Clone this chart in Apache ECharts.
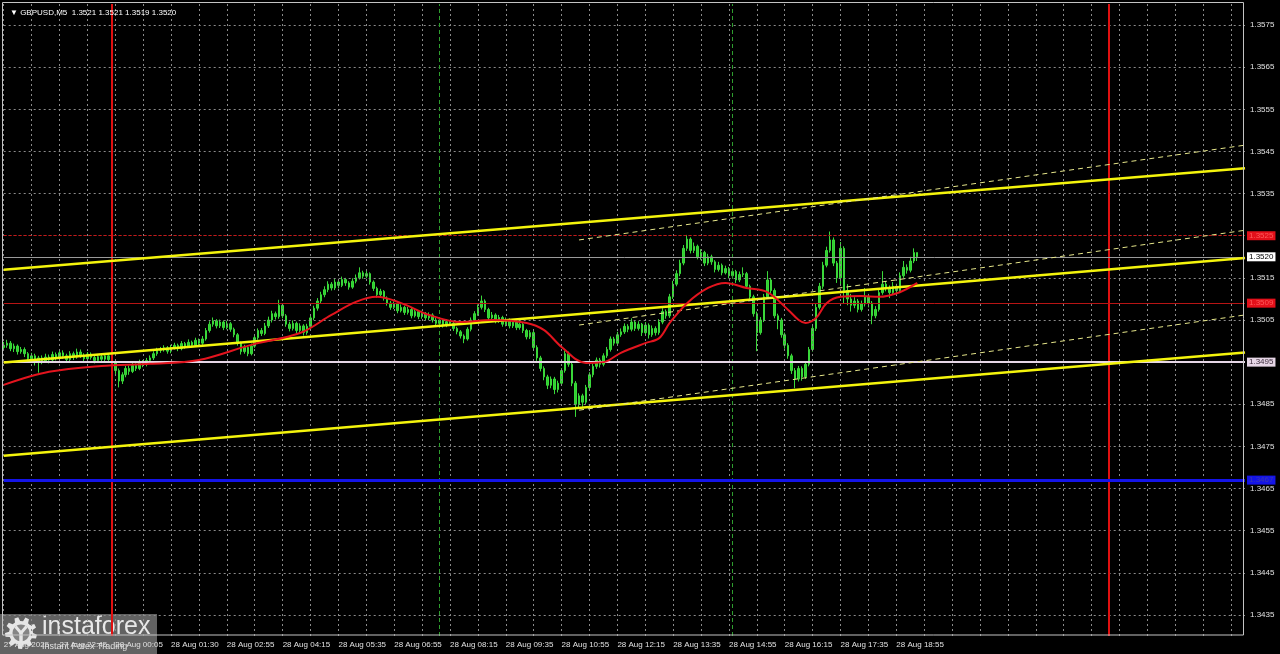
<!DOCTYPE html>
<html><head><meta charset="utf-8">
<script src="https://cdn.jsdelivr.net/npm/echarts@6/dist/echarts.min.js"></script>
<style>html,body{margin:0;padding:0;background:#000;}#c{width:1280px;height:654px;}</style>
</head><body><div id="c"></div>
<script>
// ---- data (GBPUSD M5) ----
const opens = [1.34985,1.34990,1.34995,1.34982,1.34988,1.34975,1.34980,1.34970,1.34958,1.34965,
1.34950,1.34960,1.34952,1.34962,1.34955,1.34968,1.34960,1.34972,1.34965,1.34956,
1.34970,1.34962,1.34974,1.34966,1.34958,1.34969,1.34961,1.34954,1.34963,1.34957,
1.34965,1.34956,1.34948,1.34930,1.34905,1.34920,1.34935,1.34928,1.34942,1.34935,
1.34950,1.34945,1.34954,1.34960,1.34970,1.34978,1.34980,1.34984,1.34976,1.34985,
1.34990,1.34982,1.34994,1.34988,1.34997,1.34990,1.35002,1.34995,1.35005,1.35025,
1.35040,1.35048,1.35036,1.35045,1.35032,1.35041,1.35028,1.35015,1.34995,1.34975,
1.34985,1.34970,1.34988,1.35008,1.35025,1.35018,1.35036,1.35050,1.35065,1.35058,
1.35085,1.35060,1.35040,1.35030,1.35042,1.35025,1.35036,1.35020,1.35035,1.35055,
1.35078,1.35095,1.35110,1.35122,1.35135,1.35126,1.35140,1.35132,1.35146,1.35138,
1.35128,1.35142,1.35150,1.35162,1.35154,1.35160,1.35140,1.35125,1.35110,1.35118,
1.35102,1.35090,1.35080,1.35088,1.35072,1.35080,1.35068,1.35075,1.35060,1.35070,
1.35058,1.35066,1.35055,1.35062,1.35050,1.35042,1.35050,1.35038,1.35046,1.35042,
1.35030,1.35022,1.35012,1.35005,1.35028,1.35050,1.35065,1.35080,1.35095,1.35075,
1.35055,1.35062,1.35048,1.35056,1.35040,1.35050,1.35036,1.35045,1.35032,1.35040,
1.35025,1.35010,1.35020,1.34985,1.34960,1.34935,1.34915,1.34895,1.34910,1.34885,
1.34900,1.34930,1.34970,1.34945,1.34900,1.34850,1.34870,1.34855,1.34890,1.34920,
1.34940,1.34955,1.34945,1.34965,1.34980,1.35005,1.34995,1.35015,1.35022,1.35035,
1.35028,1.35045,1.35030,1.35040,1.35020,1.35038,1.35015,1.35030,1.35020,1.35045,
1.35070,1.35060,1.35105,1.35135,1.35160,1.35185,1.35220,1.35242,1.35215,1.35225,
1.35200,1.35210,1.35185,1.35200,1.35188,1.35170,1.35180,1.35162,1.35172,1.35155,
1.35165,1.35145,1.35158,1.35160,1.35130,1.35105,1.35065,1.35020,1.35050,1.35105,
1.35145,1.35120,1.35060,1.35050,1.35015,1.34990,1.34965,1.34930,1.34910,1.34935,
1.34915,1.34945,1.34980,1.35030,1.35080,1.35130,1.35180,1.35215,1.35240,1.35185,
1.35150,1.35220,1.35120,1.35100,1.35085,1.35095,1.35075,1.35088,1.35105,1.35090,
1.35060,1.35075,1.35115,1.35135,1.35125,1.35115,1.35130,1.35120,1.35155,1.35175,
1.35168,1.35190,1.35210];
const closes = [1.34990,1.34995,1.34982,1.34988,1.34975,1.34980,1.34970,1.34958,1.34965,1.34950,
1.34960,1.34952,1.34962,1.34955,1.34968,1.34960,1.34972,1.34965,1.34956,1.34970,
1.34962,1.34974,1.34966,1.34958,1.34969,1.34961,1.34954,1.34963,1.34957,1.34965,
1.34956,1.34948,1.34930,1.34905,1.34920,1.34935,1.34928,1.34942,1.34935,1.34950,
1.34945,1.34954,1.34960,1.34970,1.34978,1.34980,1.34984,1.34976,1.34985,1.34990,
1.34982,1.34994,1.34988,1.34997,1.34990,1.35002,1.34995,1.35005,1.35025,1.35040,
1.35048,1.35036,1.35045,1.35032,1.35041,1.35028,1.35015,1.34995,1.34975,1.34985,
1.34970,1.34988,1.35008,1.35025,1.35018,1.35036,1.35050,1.35065,1.35058,1.35085,
1.35060,1.35040,1.35030,1.35042,1.35025,1.35036,1.35020,1.35035,1.35055,1.35078,
1.35095,1.35110,1.35122,1.35135,1.35126,1.35140,1.35132,1.35146,1.35138,1.35128,
1.35142,1.35150,1.35162,1.35154,1.35160,1.35140,1.35125,1.35110,1.35118,1.35102,
1.35090,1.35080,1.35088,1.35072,1.35080,1.35068,1.35075,1.35060,1.35070,1.35058,
1.35066,1.35055,1.35062,1.35050,1.35042,1.35050,1.35038,1.35046,1.35042,1.35030,
1.35022,1.35012,1.35005,1.35028,1.35050,1.35065,1.35080,1.35095,1.35075,1.35055,
1.35062,1.35048,1.35056,1.35040,1.35050,1.35036,1.35045,1.35032,1.35040,1.35025,
1.35010,1.35020,1.34985,1.34960,1.34935,1.34915,1.34895,1.34910,1.34885,1.34900,
1.34930,1.34970,1.34945,1.34900,1.34850,1.34870,1.34855,1.34890,1.34920,1.34940,
1.34955,1.34945,1.34965,1.34980,1.35005,1.34995,1.35015,1.35022,1.35035,1.35028,
1.35045,1.35030,1.35040,1.35020,1.35038,1.35015,1.35030,1.35020,1.35045,1.35070,
1.35060,1.35105,1.35135,1.35160,1.35185,1.35220,1.35242,1.35215,1.35225,1.35200,
1.35210,1.35185,1.35200,1.35188,1.35170,1.35180,1.35162,1.35172,1.35155,1.35165,
1.35145,1.35158,1.35160,1.35130,1.35105,1.35065,1.35020,1.35050,1.35105,1.35145,
1.35120,1.35060,1.35050,1.35015,1.34990,1.34965,1.34930,1.34910,1.34935,1.34915,
1.34945,1.34980,1.35030,1.35080,1.35130,1.35180,1.35215,1.35240,1.35185,1.35150,
1.35220,1.35120,1.35100,1.35085,1.35095,1.35075,1.35088,1.35105,1.35090,1.35060,
1.35075,1.35115,1.35135,1.35125,1.35115,1.35130,1.35120,1.35155,1.35175,1.35168,
1.35190,1.35210,1.35200];
const lows = [1.34977,1.34984,1.34976,1.34974,1.34968,1.34970,1.34962,1.34950,1.34952,1.34942,
1.34925,1.34945,1.34948,1.34947,1.34951,1.34954,1.34955,1.34958,1.34950,1.34952,
1.34955,1.34958,1.34960,1.34951,1.34954,1.34956,1.34947,1.34950,1.34951,1.34952,
1.34950,1.34940,1.34922,1.34890,1.34898,1.34914,1.34920,1.34924,1.34929,1.34931,
1.34938,1.34940,1.34949,1.34955,1.34965,1.34972,1.34975,1.34970,1.34971,1.34980,
1.34976,1.34978,1.34982,1.34984,1.34985,1.34987,1.34990,1.34991,1.35001,1.35020,
1.35034,1.35030,1.35031,1.35026,1.35028,1.35022,1.35009,1.34989,1.34968,1.34970,
1.34964,1.34966,1.34984,1.35003,1.35012,1.35014,1.35031,1.35044,1.35051,1.35053,
1.35054,1.35034,1.35023,1.35025,1.35018,1.35020,1.35013,1.35015,1.35030,1.35050,
1.35072,1.35090,1.35104,1.35116,1.35120,1.35121,1.35125,1.35128,1.35131,1.35122,
1.35124,1.35137,1.35146,1.35148,1.35149,1.35134,1.35119,1.35103,1.35105,1.35096,
1.35084,1.35074,1.35076,1.35066,1.35068,1.35062,1.35063,1.35054,1.35056,1.35052,
1.35053,1.35049,1.35050,1.35044,1.35036,1.35038,1.35032,1.35033,1.35036,1.35024,
1.35016,1.35006,1.34995,1.35001,1.35023,1.35045,1.35060,1.35075,1.35069,1.35049,
1.35050,1.35042,1.35043,1.35034,1.35035,1.35030,1.35031,1.35026,1.35027,1.35019,
1.35004,1.35005,1.34979,1.34953,1.34928,1.34907,1.34886,1.34888,1.34874,1.34878,
1.34895,1.34925,1.34939,1.34893,1.34820,1.34840,1.34844,1.34850,1.34884,1.34914,
1.34934,1.34937,1.34940,1.34960,1.34975,1.34989,1.34991,1.35010,1.35017,1.35021,
1.35023,1.35024,1.35025,1.35012,1.35015,1.35006,1.35010,1.35013,1.35015,1.35040,
1.35053,1.35055,1.35100,1.35130,1.35154,1.35180,1.35214,1.35208,1.35209,1.35194,
1.35193,1.35178,1.35180,1.35181,1.35163,1.35165,1.35156,1.35158,1.35149,1.35150,
1.35138,1.35140,1.35152,1.35124,1.35098,1.35058,1.34976,1.35015,1.35045,1.35100,
1.35114,1.35054,1.35028,1.35008,1.34982,1.34958,1.34922,1.34888,1.34904,1.34906,
1.34910,1.34940,1.34975,1.35024,1.35075,1.35124,1.35175,1.35210,1.35178,1.35138,
1.35135,1.35090,1.35085,1.35070,1.35078,1.35068,1.35070,1.35082,1.35080,1.35040,
1.35054,1.35070,1.35110,1.35118,1.35102,1.35110,1.35112,1.35116,1.35150,1.35160,
1.35163,1.35185,1.35190];
const highs = [1.34998,1.35003,1.35000,1.34994,1.34992,1.34986,1.34985,1.34974,1.34972,1.34970,
1.34965,1.34966,1.34970,1.34968,1.34975,1.34973,1.34980,1.34978,1.34970,1.34976,
1.34975,1.34982,1.34980,1.34971,1.34974,1.34973,1.34966,1.34969,1.34970,1.34971,
1.34970,1.34961,1.34952,1.34935,1.34926,1.34941,1.34942,1.34948,1.34947,1.34956,
1.34955,1.34960,1.34966,1.34976,1.34984,1.34986,1.34990,1.34988,1.34991,1.34996,
1.34994,1.35000,1.34998,1.35004,1.35001,1.35008,1.35006,1.35012,1.35031,1.35047,
1.35056,1.35052,1.35051,1.35049,1.35048,1.35045,1.35032,1.35019,1.34999,1.34991,
1.34990,1.34994,1.35014,1.35030,1.35031,1.35043,1.35058,1.35072,1.35070,1.35098,
1.35089,1.35064,1.35046,1.35049,1.35046,1.35042,1.35040,1.35041,1.35061,1.35084,
1.35102,1.35117,1.35130,1.35142,1.35140,1.35147,1.35145,1.35153,1.35150,1.35142,
1.35149,1.35158,1.35175,1.35167,1.35168,1.35163,1.35144,1.35129,1.35124,1.35121,
1.35106,1.35095,1.35094,1.35091,1.35087,1.35084,1.35081,1.35079,1.35077,1.35073,
1.35072,1.35069,1.35068,1.35066,1.35055,1.35056,1.35053,1.35052,1.35050,1.35046,
1.35034,1.35026,1.35016,1.35033,1.35056,1.35071,1.35087,1.35108,1.35099,1.35079,
1.35069,1.35066,1.35062,1.35060,1.35056,1.35054,1.35051,1.35049,1.35046,1.35044,
1.35029,1.35026,1.35024,1.34990,1.34965,1.34940,1.34920,1.34916,1.34915,1.34906,
1.34936,1.34978,1.34975,1.34950,1.34905,1.34876,1.34875,1.34896,1.34926,1.34946,
1.34961,1.34960,1.34971,1.34986,1.35011,1.35010,1.35022,1.35030,1.35042,1.35040,
1.35054,1.35049,1.35047,1.35043,1.35045,1.35042,1.35037,1.35035,1.35052,1.35078,
1.35075,1.35112,1.35143,1.35168,1.35193,1.35228,1.35252,1.35246,1.35234,1.35229,
1.35218,1.35214,1.35207,1.35205,1.35192,1.35188,1.35184,1.35179,1.35176,1.35172,
1.35169,1.35165,1.35175,1.35164,1.35134,1.35110,1.35070,1.35057,1.35112,1.35166,
1.35150,1.35125,1.35065,1.35055,1.35020,1.34995,1.34970,1.34936,1.34941,1.34940,
1.34952,1.34986,1.35037,1.35088,1.35138,1.35188,1.35224,1.35260,1.35246,1.35190,
1.35235,1.35225,1.35135,1.35112,1.35104,1.35100,1.35096,1.35126,1.35112,1.35095,
1.35083,1.35123,1.35166,1.35142,1.35132,1.35140,1.35136,1.35163,1.35190,1.35182,
1.35200,1.35220,1.35210];

// moving average (red), read at bar positions
const maIdx = [0,13,28,42,56,71,85,94,101,107,114,122,131,140,150,155,160,167,172,177,184,188,191,196,202,207,213,219,225,228,230,233,236,240,246,251,257,262];
const maVal = [1.34896,1.34927,1.34941,1.34946,1.34955,1.34991,1.35019,1.35062,1.35093,1.35105,1.35090,1.35062,1.35045,1.35050,1.35043,1.35026,1.34986,1.34948,1.34950,1.34972,1.34995,1.35007,1.35043,1.35090,1.35126,1.35138,1.35126,1.35116,1.35074,1.35050,1.35043,1.35055,1.35090,1.35105,1.35107,1.35105,1.35116,1.35138];

// time axis labels (every 16 bars)
const tickLabels = ['27 Aug 2025','27 Aug 22:45','28 Aug 00:05','28 Aug 01:30','28 Aug 02:55','28 Aug 04:15','28 Aug 05:35','28 Aug 06:55','28 Aug 08:15','28 Aug 09:35','28 Aug 10:55','28 Aug 12:15','28 Aug 13:35','28 Aug 14:55','28 Aug 16:15','28 Aug 17:35','28 Aug 18:55'];
const barSlots = 357;
// price tick labels
const yTicks = [1.3435,1.3445,1.3455,1.3465,1.3475,1.3485,1.3495,1.3505,1.3515,1.3525,1.3535,1.3545,1.3555,1.3565,1.3575];
// horizontal levels: resistance 1.3525, 1.3509, bid 1.3520, 1.3495, 1.3467
const levelValues = [1.3525, 1.3509, 1.3520, 1.3495, 1.3467];
// trend channels [bar0, price0, bar1, price1]
const channelSolid = [[0,1.35169,356,1.35410],[0,1.34949,356,1.35197],[0,1.34728,356,1.34973]];
const channelDashed = [[165,1.35240,356,1.35465],[165,1.35038,356,1.35263],[165,1.34836,356,1.35062]];
// vertical markers (bar index): day starts, session marks
const dayStarts = [31, 317];
const sessionMarks = [125, 209];

// ---- styles ----
const levelStyles = [
  {line:{color:'#c81818',width:1,type:[3,2]}, bg:'#e3101a', fg:'#ff5a5a'},
  {line:{color:'#b81414',width:1,type:'solid'}, bg:'#e3101a', fg:'#ff5a5a'},
  {line:{color:'#9a9a9a',width:1,type:'solid'}, bg:'#ffffff', fg:'#000000'},
  {line:{color:'#e6d6e6',width:2,type:'solid'}, bg:'#e6d6e6', fg:'#3a2a3a'},
  {line:{color:'#1414e8',width:3,type:'solid'}, bg:'#1414e8', fg:'#3a3ab0'}
];
const FONT = 'Liberation Sans';
const GRID_COLOR = '#8a8a8a';

const categories = Array.from({length: barSlots}, (_, i) => String(i));
const candleData = opens.map((o, i) => [o, closes[i], lows[i], highs[i]]);
const closePoints = closes.map((c, i) => [i, c]);
const vGridIdx = categories.map((_, i) => i).filter(i => i % 8 === 0);

function lineSeries(seg, style, z) {
  return {type:'line', data:[[seg[0],seg[1]],[seg[2],seg[3]]], showSymbol:false, symbol:'none',
    lineStyle:style, z:z, silent:true, animation:false, clip:true};
}
function holder(z, mlData) {
  return {type:'line', data:closePoints, z:z, silent:true, showSymbol:false, symbol:'none',
    lineStyle:{opacity:0},
    markLine:{symbol:['none','none'], silent:true, animation:false, precision:6, label:{show:false}, data:mlData}};
}

const gridStyle = {color:GRID_COLOR, width:1, type:[2,3]};
const series = [
  holder(1, yTicks.map(v => ({yAxis:v, lineStyle:gridStyle}))
    .concat(vGridIdx.map(v => ({xAxis:v, lineStyle:gridStyle})))),
  {
    type:'candlestick', data:candleData, z:3, barWidth:2, silent:true,
    itemStyle:{color:'#2fcf2f', color0:'#2fcf2f', borderColor:'#3ad83a', borderColor0:'#3ad83a', borderWidth:1}
  },
  holder(4, dayStarts.map(v => ({xAxis:v, lineStyle:{color:'#e01010',width:2,type:'solid'}}))
    .concat(sessionMarks.map(v => ({xAxis:v, lineStyle:{color:'#2e9e2e',width:1,type:[4,3]}})))),
  holder(4, levelValues.map((v,k) => ({yAxis:v, lineStyle:levelStyles[k].line,
    label:{show:true, position:'end', distance:2, formatter:v.toFixed(4), fontSize:8, fontFamily:FONT,
      color:levelStyles[k].fg, backgroundColor:levelStyles[k].bg, padding:[1,2,0,2]}})))
];
channelSolid.forEach(s => series.push(lineSeries(s, {color:'#f4f40c', width:2.5}, 5)));
channelDashed.forEach(s => series.push(lineSeries(s, {color:'#e6e68a', width:1, type:[5,4]}, 5)));
series.push({type:'line', data:maIdx.map((j,k)=>[j, maVal[k]]), showSymbol:false, symbol:'none', smooth:0.35,
  lineStyle:{color:'#e3141e', width:2}, z:6, silent:true});

// logo gear polygon
function gearPoints(cx, cy, rOut, rIn, teeth) {
  const pts = [];
  for (let t = 0; t < teeth; t++) {
    const a0 = (t / teeth) * Math.PI * 2;
    const step = Math.PI * 2 / teeth;
    pts.push([cx + rIn*Math.cos(a0), cy + rIn*Math.sin(a0)]);
    pts.push([cx + rOut*Math.cos(a0 + step*0.15), cy + rOut*Math.sin(a0 + step*0.15)]);
    pts.push([cx + rOut*Math.cos(a0 + step*0.5), cy + rOut*Math.sin(a0 + step*0.5)]);
    pts.push([cx + rIn*Math.cos(a0 + step*0.65), cy + rIn*Math.sin(a0 + step*0.65)]);
  }
  return pts;
}

const chart = echarts.init(document.getElementById('c'), null, {renderer:'canvas'});
chart.setOption({
  backgroundColor:'#000000',
  animation:false,
  textStyle:{fontFamily:FONT},
  title:{text:'\u25BC GBPUSD,M5  1.3521 1.3521 1.3519 1.3520', left:5, top:4,
    textStyle:{fontSize:8, color:'#ffffff', fontWeight:'normal', fontFamily:FONT}},
  grid:{left:3.7, right:35, top:4, bottom:18, outerBoundsMode:'none', containLabel:false},
  xAxis:{type:'category', data:categories, boundaryGap:false,
    axisLine:{show:false}, axisTick:{show:false}, splitLine:{show:false},
    axisLabel:{interval:15, align:'left', margin:5, fontSize:8, color:'#e0e0e0', fontFamily:FONT,
      formatter:(v, idx) => (idx % 16 === 0 && tickLabels[idx/16]) ? tickLabels[idx/16] : ''}
  },
  yAxis:{type:'value', position:'right', min:1.3430, max:1.3580, interval:0.0005, scale:true,
    axisLine:{show:false}, axisTick:{show:false}, splitLine:{show:false},
    axisLabel:{margin:5, fontSize:8, color:'#e0e0e0', fontFamily:FONT,
      formatter:v => (Math.round(v*2000) % 2 === 1) ? v.toFixed(4) : ''}
  },
  graphic:[
    {type:'rect', shape:{x:2.5, y:2.5, width:1241, height:632.5}, style:{fill:'none', stroke:'#c4c4c4', lineWidth:1}, silent:true, z:10},
    {type:'group', silent:true, z:20, children:[
      {type:'rect', shape:{x:0, y:614, width:157, height:40}, style:{fill:'rgba(125,125,125,0.78)'}},
      {type:'polygon', shape:{points:gearPoints(21, 633, 16, 12, 9)}, style:{fill:'#e6e6e6'}},
      {type:'circle', shape:{cx:21, cy:633, r:8.5}, style:{fill:'#858585'}},
      {type:'polyline', shape:{points:[[15.5,626.5],[21,633],[26.5,626.5]]}, style:{stroke:'#e6e6e6', lineWidth:3, fill:'none'}},
      {type:'line', shape:{x1:21, y1:633, x2:21, y2:642}, style:{stroke:'#e6e6e6', lineWidth:3.5}},
      {type:'text', x:42, y:615, style:{text:'instaforex', font:'25px "Liberation Sans"', fill:'#e8e8e8'}},
      {type:'text', x:42, y:642, style:{text:'Instant Forex Trading', font:'9px "Liberation Sans"', fill:'#e0e0e0'}}
    ]}
  ],
  series:series
});
</script>
</body></html>
